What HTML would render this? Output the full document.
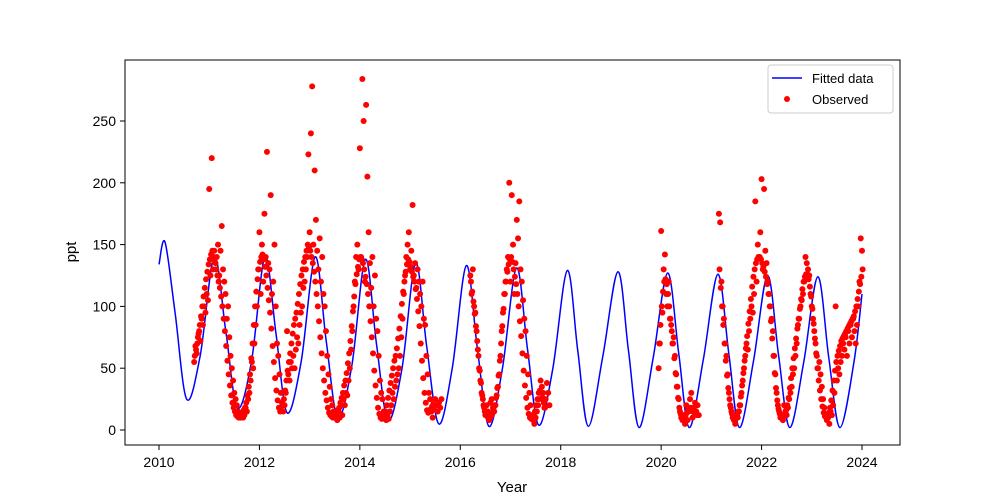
<!DOCTYPE html>
<html><head><meta charset="utf-8"><style>
body{margin:0;background:#fff;}
svg{display:block;font-family:"Liberation Sans","DejaVu Sans",sans-serif;}
</style></head><body>
<svg id="chart" width="1000" height="500" viewBox="0 0 1000 500" xmlns="http://www.w3.org/2000/svg">
<rect x="0" y="0" width="1000" height="500" fill="#fff"/>
<g id="plot"></g>
<rect x="125" y="60" width="775" height="385" fill="none" stroke="#000" stroke-width="1"/>
<g id="xticks"></g>
<g id="yticks"></g>
<text x="512" y="492" font-size="15" text-anchor="middle">Year</text>
<text transform="translate(76,252) rotate(-90)" font-size="15" text-anchor="middle">ppt</text>
<g>
<rect x="768" y="65" width="125" height="48" rx="3" fill="#fff" fill-opacity="0.8" stroke="#ccc"/>
<g><line x1="772" y1="78" x2="802" y2="78" stroke="#0000ff" stroke-width="1.5"/><text x="812" y="83" font-size="13">Fitted data</text></g>
<g><circle cx="787" cy="99" r="3" fill="#ff0000"/><text x="812" y="104" font-size="13">Observed</text></g>
</g>
</svg>
<script>
const xTicks=[2010,2012,2014,2016,2018,2020,2022,2024];
const yTicks=[0,50,100,150,200,250];
const fitT=[2010.0,2010.12,2010.32,2010.55,2010.82,2011.1,2011.33,2011.56,2011.84,2012.11,2012.33,2012.55,2012.83,2013.11,2013.33,2013.56,2013.84,2014.11,2014.33,2014.56,2014.84,2015.11,2015.33,2015.57,2015.84,2016.12,2016.34,2016.57,2016.84,2017.12,2017.34,2017.56,2017.84,2018.13,2018.34,2018.55,2018.84,2019.14,2019.35,2019.56,2019.84,2020.13,2020.35,2020.56,2020.84,2021.13,2021.35,2021.56,2021.84,2022.12,2022.34,2022.56,2022.84,2023.12,2023.34,2023.56,2023.84,2024.0];
const fitV=[134,152,95,25,60,140,80,18,55,140,78,14,55,140,72,10,52,138,70,8,50,135,68,5,50,133,66,3,50,131,65,4,49,129,64,3,60,128,64,2,58,127,62,2,57,126,61,2,56,125,60,2,55,124,58,2,55,110];
const obsStep=0.025;
const segStart=[2010.7,2016.2,2019.95,2021.15];
const segStart2=[2010.7125,2016.2125,2019.9625,2021.1625];
const segA=[55,68,62,75,80,72,90,85,100,95,110,105,195,125,220,130,145,135,140,150,125,145,165,130,120,110,90,100,75,60,50,40,30,25,20,15,12,10,14,10,
12,18,15,25,30,40,55,50,70,85,100,130,160,110,150,120,175,140,225,135,130,190,110,120,150,100,70,60,45,30,22,15,20,30,80,45,40,55,50,60,
50,65,75,70,85,95,100,115,120,130,140,223,160,240,278,150,210,170,145,130,155,120,140,110,100,80,60,45,35,25,20,15,10,12,8,15,10,20,12,25,
20,30,28,40,50,65,80,100,120,140,150,130,228,140,284,250,120,263,205,160,135,115,140,100,125,90,80,60,40,30,25,15,10,8,12,9,15,20,30,25,
35,40,45,50,60,75,90,110,125,140,150,160,130,145,182,125,135,115,130,120,110,100,120,90,85,60,45,30,25,15,10,18,25,20,15,22,18,25];
const segB=[125,110,130,100,95,80,65,50,40,30,25,18,12,20,15,8,22,25,18,15,20,28,35,45,60,80,95,110,120,130,140,200,120,190,150,110,135,170,155,185,
130,120,105,90,80,60,45,30,20,12,8,5,10,15,20,25,40,35,30,18,25,38,30,20];
const segC=[50,70,161,95,130,142,110,100,120,90,85,70,75,60,45,35,25,15,10,8,12,5,20,8,15,25,30,10,18,22,15,20,12];
const segD=[175,168,120,100,90,70,60,45,30,20,15,10,8,5,12,10,15,20,30,40,50,60,70,65,80,90,100,95,110,185,120,150,140,160,203,130,195,145,135,120,
110,100,90,80,60,45,30,20,15,10,12,8,20,15,12,18,25,30,35,45,50,60,70,85,90,100,105,110,120,140,135,130,125,110,100,90,80,70,60,50,
55,45,35,25,18,12,8,10,5,15,12,20,30,100,40,50,45,55,60,70,65,75,60,80,70,85,75,90,80,70,85,100,120,155,145];
const segA2=[60,65,70,78,85,92,100,108,115,122,128,134,138,142,145,140,136,130,125,120,115,108,100,90,80,68,56,45,36,28,22,18,15,12,11,10,11,12,14,16,
18,22,28,35,45,58,70,85,100,112,122,130,136,140,142,138,132,125,115,105,95,82,68,55,42,32,24,18,15,16,20,25,32,40,48,55,62,70,78,85,
90,95,102,110,118,125,130,136,140,145,150,148,145,140,135,128,120,110,100,88,75,62,50,40,30,24,18,14,12,11,10,11,12,14,16,18,22,26,30,36,
40,46,54,62,72,84,96,108,118,126,132,138,140,138,135,130,124,118,110,100,88,75,62,48,36,26,18,13,10,9,10,12,15,20,26,32,38,44,50,56,
60,66,74,82,92,102,112,120,128,134,138,136,132,128,124,120,114,106,96,84,70,56,42,30,22,16,14,15,17,19,21,20];
const segB2=[120,112,104,94,84,72,60,48,38,28,20,15,12,11,10,10,11,13,16,20,26,34,44,56,70,84,98,110,120,128,134,138,140,136,130,124,118,110,100,88,76,62,48,36,26,18,13,10,9,10,12,15,20,25,30,32,30,26,22,18];
const segC2=[70,85,100,112,120,122,118,110,100,90,80,70,58,46,35,26,18,13,10,9,10,12,14,16,18,18,17,15,14,13,12];
const segD2=[130,115,100,85,70,56,44,34,25,18,13,10,9,10,12,15,20,27,36,46,56,66,76,86,96,106,116,124,130,135,138,140,140,138,135,132,128,124,118,110,
100,88,74,60,46,34,24,17,13,10,10,11,13,16,20,26,34,42,50,58,66,74,82,90,98,106,114,120,124,126,126,122,116,108,98,86,74,62,50,40,
32,25,19,14,11,10,11,14,18,24,32,40,48,55,60,64,68,72,74,76,78,80,82,84,86,88,90,92,96,100,106,112,118,124,130];
const segVals=[segA,segB,segC,segD];
const segVals2=[segA2,segB2,segC2,segD2];

const NS="http://www.w3.org/2000/svg";
const xS=t=>159+(t-2010)*(862-159)/14;
const yS=v=>430-v*(309/250);
function mk(tag,attrs,parent){const e=document.createElementNS(NS,tag);for(const k in attrs)e.setAttribute(k,attrs[k]);parent.appendChild(e);return e;}
const plot=document.getElementById('plot');
const P=fitT.map((t,i)=>[xS(t),yS(fitV[i])]);
let d=`M${P[0][0]},${P[0][1]}`;
for(let i=0;i<P.length-1;i++){const p0=P[i-1]||P[i],p1=P[i],p2=P[i+1],p3=P[i+2]||P[i+1];
d+=` C${p1[0]+(p2[0]-p0[0])/6},${p1[1]+(p2[1]-p0[1])/6} ${p2[0]-(p3[0]-p1[0])/6},${p2[1]-(p3[1]-p1[1])/6} ${p2[0]},${p2[1]}`;}
const line=mk('path',{d:d,fill:'none',stroke:'#0000ff','stroke-width':1.5},plot);


const dots=mk('g',{},plot);


function drawSet(starts,sets){sets.forEach((vals,s)=>{vals.forEach((v,i)=>{
 const c=mk('circle',{cx:xS(starts[s]+i*obsStep),cy:yS(v),r:3,fill:'#ff0000'},dots);
 
 
});});}
drawSet(segStart2,segVals2);
drawSet(segStart,segVals);
const xg=document.getElementById('xticks');
xTicks.forEach(t=>{const x=xS(t);
 mk('line',{x1:x,y1:445,x2:x,y2:450,stroke:'#000'},xg);
 const tx=mk('text',{x:x,y:467,'font-size':14,'text-anchor':'middle'},xg);tx.textContent=t;
 
 
});
const yg=document.getElementById('yticks');
yTicks.forEach(v=>{const y=yS(v);
 mk('line',{x1:120,y1:y,x2:125,y2:y,stroke:'#000'},yg);
 const tx=mk('text',{x:116,y:y+5,'font-size':14,'text-anchor':'end'},yg);tx.textContent=v;
 
 
});
</script>
</body></html>
